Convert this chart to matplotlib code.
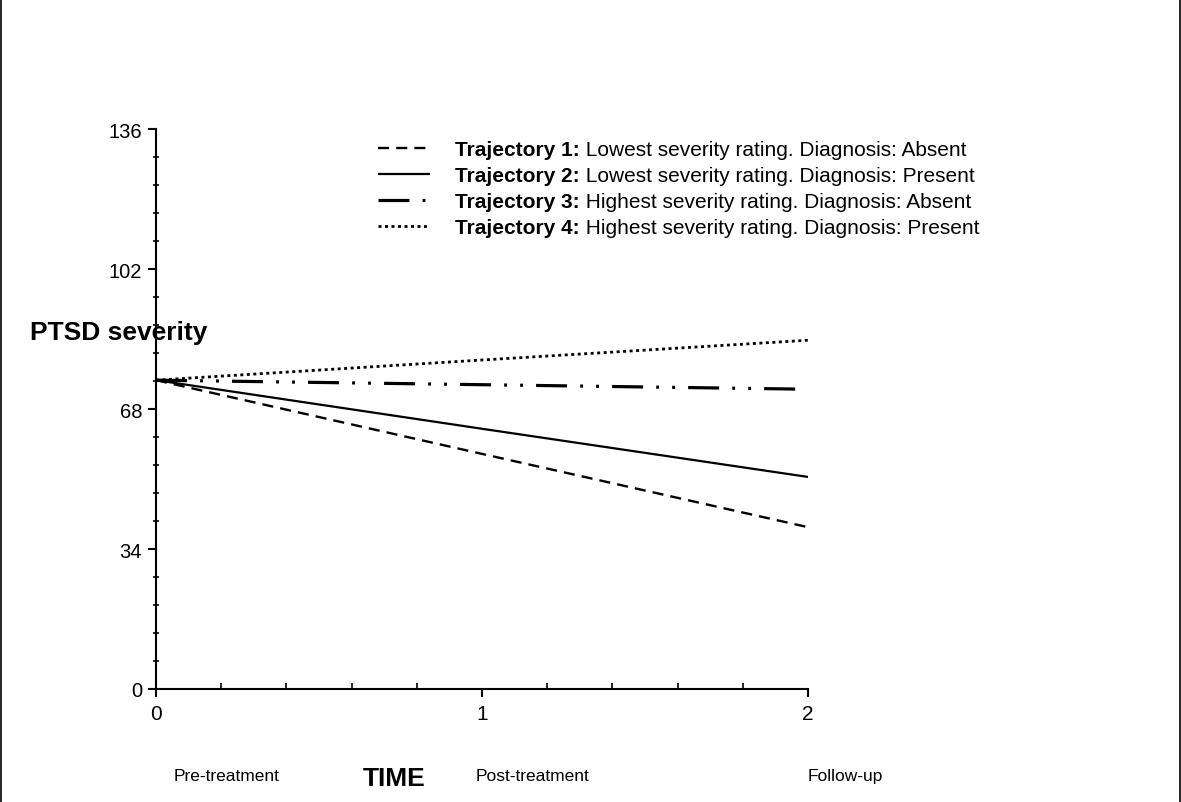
import matplotlib
matplotlib.use("Agg")
import matplotlib.pyplot as plt
from matplotlib.lines import Line2D
from matplotlib.ticker import MultipleLocator

plt.rcParams['font.family'] = ['Liberation Sans', 'DejaVu Sans']

# ---- data ----
time_points = [0, 1, 2]
time_labels = ["Pre-treatment", "Post-treatment", "Follow-up"]
traj1 = [75.0, 57.1, 39.3]
traj2 = [75.0, 63.2, 51.5]
traj3 = [75.0, 73.9, 72.8]
traj4 = [75.0, 79.9, 84.7]
traj_names = ["Trajectory 1:", "Trajectory 2:", "Trajectory 3:", "Trajectory 4:"]
traj_desc = ["Lowest severity rating. Diagnosis: Absent",
             "Lowest severity rating. Diagnosis: Present",
             "Highest severity rating. Diagnosis: Absent",
             "Highest severity rating. Diagnosis: Present"]
y_ticks = [0, 34, 68, 102, 136]
x_ticks = [0, 1, 2]

W, H = 1181, 803
fig = plt.figure(figsize=(W / 100, H / 100), dpi=100)
ax = fig.add_axes([156 / W, 1 - 690 / H, (808 - 156) / W, (690 - 130) / H])

styles = [
    dict(linestyle=(0, (4.7, 3.0)), lw=1.7),
    dict(linestyle='-', lw=1.6),
    dict(linestyle=(0, (9.7, 4.1, 0.9, 4.1, 0.9, 4.1)), lw=2.3),
    dict(linestyle=(0, (1.08, 1.26)), lw=2.0),
]
series = [traj1, traj2, traj3, traj4]
for s, st in zip(series, styles):
    ax.plot(time_points, s, color='black', solid_capstyle='butt',
            dash_capstyle='butt', **st)

ax.set_xlim(0, 2)
ax.set_ylim(0, 136)
ax.set_xticks(x_ticks)
ax.set_yticks(y_ticks)
ax.xaxis.set_minor_locator(MultipleLocator(0.2))
ax.yaxis.set_minor_locator(MultipleLocator(6.8))
for sp in ['top', 'right']:
    ax.spines[sp].set_visible(False)
for sp in ['left', 'bottom']:
    ax.spines[sp].set_linewidth(1.5)
    ax.spines[sp].set_clip_on(False)
ax.tick_params(which='major', direction='out', length=6, width=1.5)
ax.tick_params(axis='y', which='major', labelsize=14.5, pad=4)
ax.tick_params(axis='x', which='major', labelsize=15, pad=5)
ax.tick_params(which='minor', direction='inout', length=5, width=1.2)
ax.tick_params(axis='x', which='minor', direction='in', length=4)

for lbl, xp in zip(time_labels, [0.055, 0.98, 2.0]):
    ax.text(xp, -0.155, lbl, transform=ax.get_xaxis_transform(),
            ha='left', va='center', fontsize=12.5)

fig.text(363 / W, 1 - 779 / H, "TIME", fontsize=19, fontweight='bold',
         ha='left', va='center')
fig.text(30 / W, 1 - 333 / H, "PTSD severity", fontsize=19, fontweight='bold',
         ha='left', va='center')

# ---- legend (drawn by hand so the label can mix bold and regular) ----
renderer = fig.canvas.get_renderer()
row_y = [149, 175, 201, 227]
for name, desc, st, ry in zip(traj_names, traj_desc, styles, row_y):
    yf = 1 - ry / H
    fig.add_artist(Line2D([378 / W, 430 / W], [yf, yf], color='black',
                          solid_capstyle='butt', dash_capstyle='butt',
                          transform=fig.transFigure, **st))
    t = fig.text(455 / W, yf, name, fontsize=15, fontweight='bold',
                 ha='left', va='center_baseline')
    wpx = t.get_window_extent(renderer).width
    fig.text((455 + wpx) / W, yf, " " + desc, fontsize=15,
             ha='left', va='center_baseline')

# figure border
for xs, ys in [([0.0008, 0.0008], [0, 0.9995]), ([0, 1], [0.9995, 0.9995]),
               ([0.9992, 0.9992], [0, 0.9995])]:
    fig.add_artist(Line2D(xs, ys, color='black', lw=1.2,
                          transform=fig.transFigure))

fig.savefig("out.png", dpi=100)
